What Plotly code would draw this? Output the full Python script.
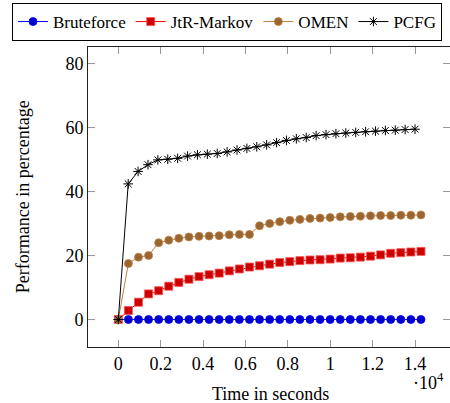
import plotly.graph_objects as go

# sample times (seconds)
t_main = [0, 476, 952, 1428, 1904, 2380, 2856, 3332, 3808, 4284, 4760, 5236, 5712, 6188,
          6664, 7140, 7616, 8092, 8568, 9044, 9520, 9996, 10472, 10948, 11424, 11900,
          12376, 12852, 13328, 13804, 14280]
t_pcfg = [0, 467, 933, 1400, 1867, 2333, 2800, 3267, 3733, 4200, 4667, 5133, 5600, 6067,
          6533, 7000, 7467, 7933, 8400, 8867, 9333, 9800, 10267, 10733, 11200, 11667,
          12133, 12600, 13067, 13533, 14000]

bruteforce = [0] * 31
jtr_markov = [0, 2.8, 5.4, 8.0, 9.0, 10.4, 11.6, 12.6, 13.4, 14.0, 14.5, 15.2, 15.8, 16.4,
              16.8, 17.3, 17.8, 18.1, 18.4, 18.6, 18.7, 18.9, 19.2, 19.3, 19.5, 19.8, 20.2,
              20.7, 20.9, 21.1, 21.3]
omen = [0, 17.5, 19.5, 20.0, 24.0, 24.8, 25.4, 25.8, 26.0, 26.1, 26.2, 26.5, 26.6, 26.6,
        29.3, 30.0, 30.6, 31.0, 31.3, 31.6, 31.7, 31.9, 32.1, 32.2, 32.3, 32.4, 32.5, 32.5,
        32.6, 32.6, 32.7]
pcfg = [0, 42.4, 46.3, 48.4, 49.9, 50.1, 50.4, 51.1, 51.5, 51.7, 51.9, 52.4, 53.0, 53.5,
        54.0, 54.6, 55.3, 56.0, 56.5, 56.9, 57.5, 57.8, 58.1, 58.3, 58.5, 58.7, 58.9, 59.1,
        59.2, 59.4, 59.5]

x_ticks = [0, 2000, 4000, 6000, 8000, 10000, 12000, 14000]
x_tick_labels = ["0", "0.2", "0.4", "0.6", "0.8", "1", "1.2", "1.4"]
y_ticks = [0, 20, 40, 60, 80]

FONT = "Liberation Serif, Times New Roman, Times, DejaVu Serif, serif"
FS = 18

L, R, T, B = 88, 0, 47, 56
PW, PH = 450 - L - R, 403 - T - B

fig = go.Figure()
fig.add_trace(go.Scatter(x=t_main, y=bruteforce, name="Bruteforce", mode="lines+markers",
                         line=dict(color="rgb(0,0,255)", width=1),
                         marker=dict(symbol="circle", size=8, color="rgb(0,0,204)",
                                     line=dict(color="rgb(0,0,255)", width=0.8))))
fig.add_trace(go.Scatter(x=t_main, y=jtr_markov, name="JtR-Markov", mode="lines+markers",
                         line=dict(color="rgb(255,0,0)", width=1),
                         marker=dict(symbol="square", size=8, color="rgb(204,0,0)",
                                     line=dict(color="rgb(255,80,80)", width=0.8))))
fig.add_trace(go.Scatter(x=t_main, y=omen, name="OMEN", mode="lines+markers",
                         line=dict(color="rgb(191,128,64)", width=1),
                         marker=dict(symbol="circle", size=8, color="rgb(153,102,51)",
                                     line=dict(color="rgb(191,128,64)", width=0.8))))
fig.add_trace(go.Scatter(x=t_pcfg, y=pcfg, name="PCFG", mode="lines+markers",
                         line=dict(color="black", width=1),
                         marker=dict(symbol="asterisk-open", size=8, color="black",
                                     line=dict(color="black", width=1))))
# invisible trace to carry the mirrored right-hand tick axis
fig.add_trace(go.Scatter(x=[None], y=[None], yaxis="y2", showlegend=False, hoverinfo="skip"))

fig.update_layout(
    width=450, height=403,
    margin=dict(l=L, r=R, t=T, b=B, autoexpand=False),
    paper_bgcolor="white", plot_bgcolor="white",
    font=dict(family=FONT, size=FS, color="black"),
    showlegend=True,
    legend=dict(orientation="h", xref="paper", yref="paper",
                x=(12 - L) / PW, y=1 + (T - 3) / PH, xanchor="left", yanchor="top",
                bordercolor="black", borderwidth=1, bgcolor="white",
                font=dict(family=FONT, size=17), itemwidth=30,
                tracegroupgap=0, itemsizing="trace"),
    xaxis=dict(range=[-1430, 15650], tickvals=x_ticks, ticktext=x_tick_labels,
               ticks="inside", ticklen=7, tickcolor="#999", tickwidth=1,
               showline=True, linecolor="#222", linewidth=1, mirror="ticks",
               showgrid=False, zeroline=False, tickfont=dict(family=FONT, size=FS),
               ticklabelstandoff=0),
    yaxis=dict(range=[-8.6, 85.2], tickvals=y_ticks,
               ticks="inside", ticklen=7, tickcolor="#999", tickwidth=1,
               showline=True, linecolor="#222", linewidth=1, mirror=False,
               showgrid=False, zeroline=False, tickfont=dict(family=FONT, size=FS),
               ticklabelstandoff=0),
    yaxis2=dict(range=[-8.6, 85.2], tickvals=y_ticks, overlaying="y", side="right",
                ticks="inside", ticklen=7, tickcolor="#999", tickwidth=1,
                showticklabels=False, showline=False, showgrid=False, zeroline=False),
    annotations=[
        dict(text="Time in seconds", xref="paper", yref="paper", x=0.505, y=-0.155,
             xanchor="center", yanchor="middle", showarrow=False,
             font=dict(family=FONT, size=FS)),
        dict(text="Performance in percentage", xref="paper", yref="paper",
             x=-0.179, y=0.5, textangle=-90, xanchor="center", yanchor="middle",
             showarrow=False, font=dict(family=FONT, size=FS)),
        dict(text="·10<sup>4</sup>", xref="paper", yref="paper", x=0.99, y=-0.115,
             xanchor="right", yanchor="middle", showarrow=False,
             font=dict(family=FONT, size=FS)),
    ],
)

fig.write_html("out.html", config={"displayModeBar": False},
               post_script="document.body.style.margin='0';document.body.style.overflow='hidden';")
